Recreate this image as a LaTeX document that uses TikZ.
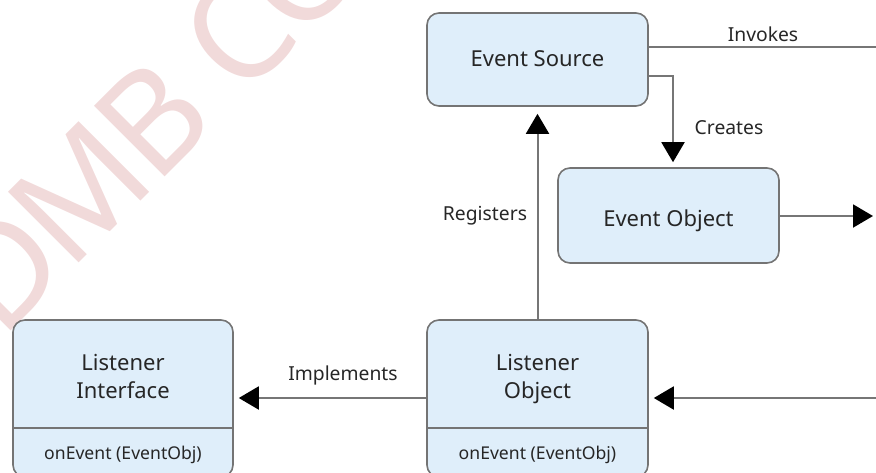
\documentclass[tikz,border=0pt]{standalone}
\usepackage{fontspec}
\setmainfont{Noto Sans}
\newfontfamily\wmfont[LetterSpace=-4]{Noto Sans}
\usetikzlibrary{arrows.meta}
\definecolor{boxfill}{HTML}{DFEEFA}
\definecolor{boxline}{HTML}{747474}
\definecolor{connc}{HTML}{767676}
\definecolor{txt}{HTML}{262626}
\definecolor{wmark}{HTML}{F1DADA}
\begin{document}
\begin{tikzpicture}[x=1pt,y=-1pt,
  box/.style={draw=boxline, line width=1.6pt, fill=boxfill, rounded corners=12pt, inner sep=0pt},
  divider/.style={draw=boxline, line width=1.6pt},
  title/.style={text=txt, font=\fontsize{22}{26}\selectfont, anchor=base, inner sep=0pt},
  lbl/.style={text=txt, font=\fontsize{19.3}{23}\selectfont, anchor=base, inner sep=0pt},
  meth/.style={text=txt, font=\fontsize{17.6}{21}\selectfont, anchor=base, inner sep=0pt},
  connector/.style={draw=connc, line width=2pt},
  arrowed/.style={connector, -{Triangle[length=20pt,width=23pt,color=black]}},
  wmtext/.style={text=wmark, font=\wmfont\fontsize{140}{150}\selectfont, inner sep=0pt}
]
\useasboundingbox (0,0) rectangle (876,472);
\clip (0,0) rectangle (876,472);
% watermark
\node[wmtext, rotate=45, anchor=base west] (wm) at (1,341) {DMB CO};
% boxes
\node[box, minimum width=221pt, minimum height=93pt] (es) at (537.5,59.5) {};
\node[box, minimum width=221pt, minimum height=95pt] (eo) at (668.5,215.5) {};
\node[box, minimum width=220pt, minimum height=157pt] (li) at (123,398.5) {};
\node[box, minimum width=221pt, minimum height=157pt] (lo) at (537.5,398.5) {};
\draw[divider] (li.west |- 0,428) -- (li.east |- 0,428);
\draw[divider] (lo.west |- 0,428) -- (lo.east |- 0,428);
% box texts
\node[title] (est) at (537.5,66.5) {Event Source};
\node[title] (eot) at (668.5,226) {Event Object};
\node[title] (lit1) at (123,370) {Listener};
\node[title] (lit2) at (123,398) {Interface};
\node[title] (lot1) at (537.5,370) {Listener};
\node[title] (lot2) at (537.5,398) {Object};
\node[meth] (lim) at (123,459) {onEvent (EventObj)};
\node[meth] (lom) at (537.5,459) {onEvent (EventObj)};
% free ends
\coordinate (invE) at (876,47);
\coordinate (crC) at (673,76);
\coordinate (eoR) at (873,216);
\coordinate (loR) at (876,398);
% connectors
\draw[connector] (es.east |- invE) -- (invE);
\draw[arrowed, shorten >=5pt] (es.east |- crC) -- (crC) -- (crC |- eo.north);
\draw[arrowed] (eo.east |- eoR) -- (eoR);
\draw[arrowed, shorten >=7pt] (lo.north) -- (es.south);
\draw[arrowed, shorten >=5pt] (lo.west |- loR) -- (li.east |- loR);
\draw[arrowed, shorten >=5pt] (loR) -- (lo.east |- loR);
% labels
\node[lbl] (linv) at (763,41.5) {Invokes};
\node[lbl] (lcre) at (729,134) {Creates};
\node[lbl] (lreg) at (485,220.5) {Registers};
\node[lbl] (limp) at (343,380) {Implements};
\end{tikzpicture}
\end{document}
